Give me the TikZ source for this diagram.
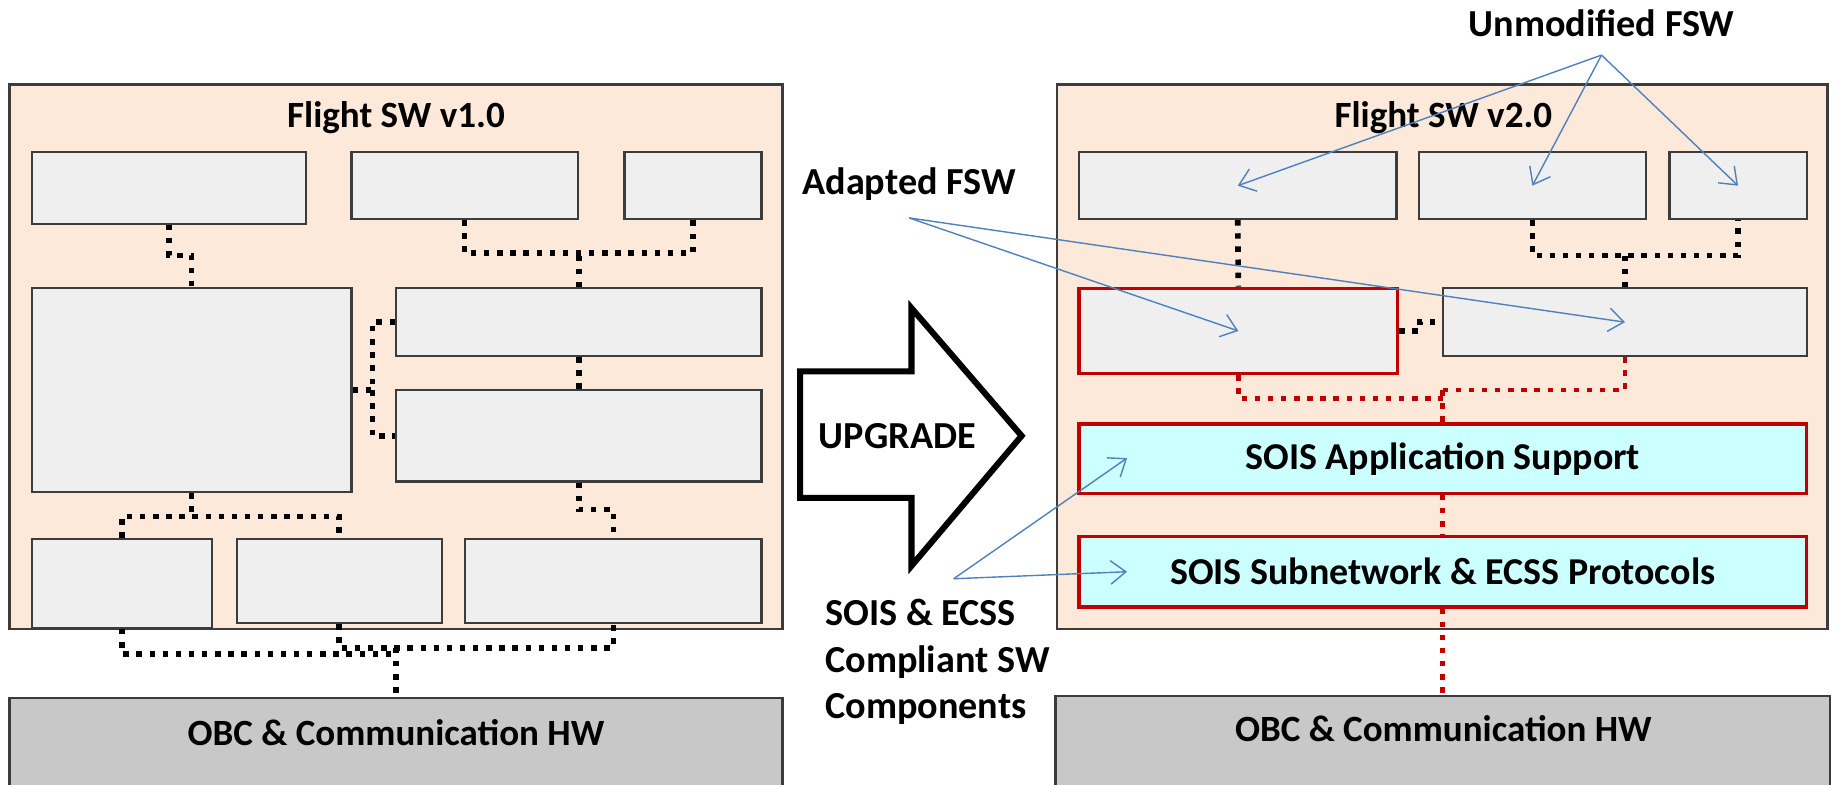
\documentclass[tikz,border=0pt]{standalone}
\usepackage{fontspec}
\setmainfont{Carlito}
\usetikzlibrary{arrows.meta,fit}

\definecolor{peach}{RGB}{253,233,217}
\definecolor{boxgray}{RGB}{239,239,239}
\definecolor{hwgray}{RGB}{200,200,200}
\definecolor{soiscyan}{RGB}{204,255,255}
\definecolor{soisred}{RGB}{192,0,0}
\definecolor{callout}{RGB}{79,129,189}
\definecolor{edge}{RGB}{60,60,60}

\begin{document}
\begin{tikzpicture}[x=0.5pt,y=-0.5pt,
  panel/.style={draw=edge, line width=1pt, fill=peach, inner sep=0pt},
  module/.style={draw=edge, line width=0.9pt, fill=boxgray, inner sep=0pt},
  adapted/.style={draw=soisred, line width=1.4pt, fill=boxgray, inner sep=0pt},
  soislayer/.style={draw=soisred, line width=1.4pt, fill=soiscyan, inner sep=0pt},
  hw/.style={draw=edge, line width=1pt, fill=hwgray, inner sep=0pt},
  title/.style={font=\bfseries\fontsize{15.8}{19}\selectfont, inner sep=0pt},
  layertext/.style={font=\bfseries\fontsize{16.2}{19}\selectfont, inner sep=0pt},
  callouttext/.style={font=\bfseries\fontsize{16.3}{20}\selectfont, inner sep=0pt},
  link/.style={line width=2.4pt, dash pattern=on 2.3pt off 3.3pt},
  redlink/.style={link, draw=soisred, line width=2pt},
  pointer/.style={draw=callout, line width=0.6pt, -{Straight Barb[length=6.5pt,width=10pt]}},
]
\path[use as bounding box] (0,0) rectangle (1568,670);
\clip (0,0) rectangle (1568,670);

% ---------------- Flight SW v1.0 ----------------
\node[panel, fit={(8,72) (668,537)}] (P1) {};
\node[title] (t1) at (338,100) {Flight SW v1.0};

\node[module, fit={(27,130) (261,191)}] (A1) {};
\node[module, fit={(300,130) (493,187)}] (A2) {};
\node[module, fit={(533,130) (650,187)}] (A3) {};
\node[module, fit={(27,246) (300,420)}] (B1) {};
\node[module, fit={(338,246) (650,304)}] (B2) {};
\node[module, fit={(338,333) (650,411)}] (B3) {};
\node[module, fit={(27,460) (181,536)}] (C1) {};
\node[module, fit={(202,460) (377,532)}] (C2) {};
\node[module, fit={(397,460) (650,532)}] (C3) {};

\node[hw, fit={(8,596) (668,680)}] (HW1) {};
\node[title] (hw1t) at (338,625) {OBC \& Communication HW};

% interconnections
\draw[link] (A1.south) -- (A1.south |- 0,218) -| (B1.north);
\draw[link] (A2.south) -- (A2.south |- 0,216) -- (A3.south |- 0,216) -- (A3.south);
\draw[link] (B2.north) -- (B2.north |- 0,216);
\draw[link] (B1.east) -- (B1.east -| 318,0) |- (B2.west);
\draw[link] (B1.east -| 318,0) |- (B3.west);
\draw[link] (B2.south) -- (B3.north);
\draw[link] (C1.north) -- (C1.north |- 0,441) -- (C2.north |- 0,441) -- (C2.north);
\draw[link] (B1.south) -- (B1.south |- 0,441);
\draw[link] (B3.south) -- (B3.south |- 0,435) -| (C3.north);
\draw[link] (C1.south) -- (C1.south |- 0,558) -- (HW1.north |- 0,558);
\draw[link] (C2.south) -- (C2.south |- 0,553) -- (C3.south |- 0,553) -- (C3.south);
\draw[link] (HW1.north |- 0,553) -- (HW1.north);

% ---------------- Upgrade arrow ----------------
\draw[line width=2.6pt, fill=white, line join=miter]
  (683,317) -- (778,317) -- (778,263) -- (872,372) -- (778,483) -- (778,425) -- (683,425) -- cycle;
\node[callouttext] (upg) at (766,372) {UPGRADE};

% ---------------- Flight SW v2.0 ----------------
\node[panel, fit={(902,72) (1560,537)}] (P2) {};
\node[title] (t2) at (1232,100) {Flight SW v2.0};

\node[module, fit={(921,130) (1192,187)}] (D1) {};
\node[module, fit={(1211,130) (1405,187)}] (D2) {};
\node[module, fit={(1425,130) (1542,187)}] (D3) {};
\node[adapted, fit={(921,246) (1193,319)}] (E1) {};
\node[module, fit={(1232,246) (1542,304)}] (E2) {};
\node[soislayer, fit={(921,362) (1542,421)}] (App) {};
\node[layertext] (appt) at (App.center) {SOIS Application Support};
\node[soislayer, fit={(921,458) (1542,518)}] (Sub) {};
\node[layertext] (subt) at (Sub.center) {SOIS Subnetwork \& ECSS Protocols};

\node[hw, fit={(901,594) (1562,680)}] (HW2) {};
\node[title] (hw2t) at (1232,622) {OBC \& Communication HW};

\draw[link] (D1.south) -- (E1.north);
\draw[link] (D2.south) -- (D2.south |- 0,218) -- (D3.south |- 0,218) -- (D3.south);
\draw[link] (E2.north) -- (E2.north |- 0,218);
\draw[link] (E1.east) -- (E1.east -| 1212,0) |- (E2.west);
\draw[redlink] (E1.south) -- (E1.south |- 0,340) -- (App.north |- 0,340);
\draw[redlink] (E2.south) -- (E2.south |- 0,333) -- (App.north |- 0,333);
\draw[redlink] (App.north |- 0,333) -- (App.north);
\draw[redlink] (App.south) -- (Sub.north);
\draw[redlink] (Sub.south) -- (HW2.north);

% ---------------- Callouts ----------------
\node[callouttext] (unmod) at (1367,20) {Unmodified FSW};
\coordinate (uapex) at (1367,47);
\draw[pointer] (uapex) -- (D1.center);
\draw[pointer] (uapex) -- (D2.center);
\draw[pointer] (uapex) -- (D3.center);

\node[callouttext] (adapt) at (776,157) {Adapted FSW};
\coordinate (aapex) at (776,186);
\draw[pointer] (aapex) -- (E1.center);
\draw[pointer] (aapex) -- (E2.center);

\node[callouttext, align=left, anchor=west] (soislbl) at (704,565)
  {SOIS \& ECSS\\Compliant SW\\Components};
\coordinate (sapex) at (814,494);
\coordinate (apptip) at (962,391);
\coordinate (subtip) at (962,488);
\draw[pointer] (sapex) -- (apptip);
\draw[pointer] (sapex) -- (subtip);
\end{tikzpicture}
\end{document}
